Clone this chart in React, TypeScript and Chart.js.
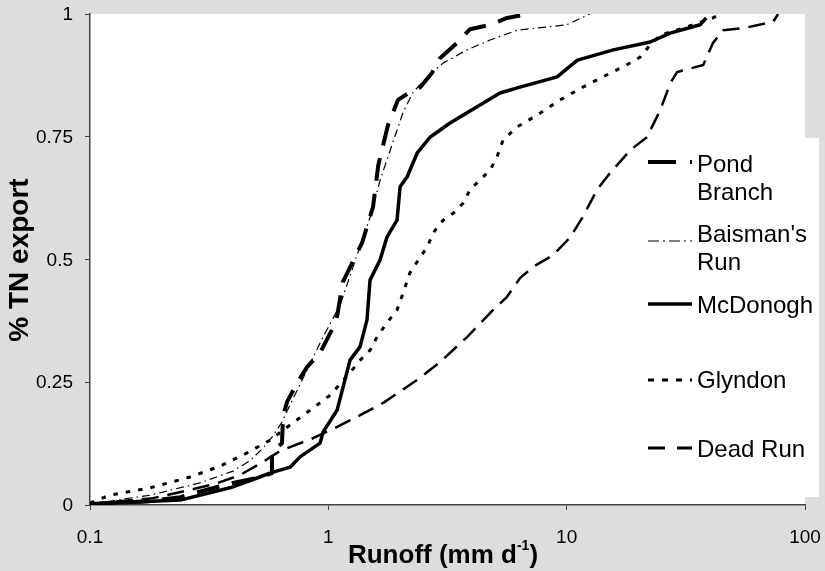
import React, { useEffect, useRef } from "react";
import { Chart, registerables } from "chart.js";
Chart.register(...registerables);

const FONT = 'Arial, "Liberation Sans", Helvetica, sans-serif';

const seriesNames = ["Pond Branch", "Baisman's Run", "McDonogh", "Glyndon", "Dead Run"];

const pondX = [0.1, 0.179, 0.239, 0.31, 0.398, 0.502, 0.58, 0.58, 0.639, 0.646, 0.671, 0.739, 0.814, 0.923, 1.08, 1.15, 1.385, 1.54, 1.62, 1.78, 1.96, 2.27, 2.43, 2.72, 2.94, 3.47, 3.93, 4.77, 5.62, 6.89];
const pondY = [0.002, 0.008, 0.016, 0.031, 0.045, 0.055, 0.065, 0.108, 0.126, 0.181, 0.21, 0.248, 0.281, 0.31, 0.374, 0.454, 0.534, 0.607, 0.692, 0.774, 0.825, 0.845, 0.851, 0.88, 0.91, 0.941, 0.969, 0.978, 0.992, 1.0];

const baismanX = [0.1, 0.179, 0.289, 0.398, 0.469, 0.532, 0.58, 0.639, 0.691, 0.814, 0.95, 1.12, 1.27, 1.4, 1.5, 1.65, 1.82, 2.06, 2.27, 2.6, 3.03, 3.82, 4.77, 6.19, 10, 12.5];
const baismanY = [0.002, 0.02, 0.045, 0.069, 0.09, 0.116, 0.138, 0.169, 0.204, 0.275, 0.342, 0.407, 0.485, 0.546, 0.587, 0.662, 0.723, 0.8, 0.841, 0.872, 0.9, 0.927, 0.947, 0.967, 0.978, 1.0];

const mcdonoghX = [0.1, 0.239, 0.387, 0.502, 0.569, 0.691, 0.761, 0.923, 0.951, 1.088, 1.153, 1.233, 1.358, 1.453, 1.496, 1.648, 1.763, 1.942, 2.0, 2.14, 2.36, 2.67, 3.24, 4.21, 5.25, 6.37, 9.12, 11.1, 15.7, 22.4, 27.2, 36.3, 38.5];
const mcdonoghY = [0.002, 0.01, 0.035, 0.055, 0.065, 0.077, 0.098, 0.126, 0.149, 0.193, 0.24, 0.295, 0.322, 0.377, 0.458, 0.499, 0.546, 0.58, 0.648, 0.668, 0.717, 0.749, 0.778, 0.811, 0.839, 0.851, 0.872, 0.906, 0.927, 0.943, 0.961, 0.978, 0.992];

const glyndonX = [0.1, 0.121, 0.179, 0.263, 0.351, 0.456, 0.569, 0.691, 0.838, 1.02, 1.23, 1.36, 1.5, 1.6, 1.76, 1.94, 2.06, 2.2, 2.43, 2.6, 2.75, 3.03, 3.34, 3.68, 3.93, 4.33, 4.77, 5.1, 5.41, 6.19, 7.51, 9.38, 11.7, 14.2, 17.2, 20.3, 22.4, 24.7, 30.8, 41.1, 44.0];
const glyndonY = [0.004, 0.02, 0.035, 0.057, 0.079, 0.106, 0.132, 0.163, 0.193, 0.224, 0.269, 0.295, 0.316, 0.342, 0.371, 0.397, 0.432, 0.473, 0.505, 0.525, 0.554, 0.58, 0.594, 0.615, 0.642, 0.662, 0.682, 0.709, 0.743, 0.77, 0.794, 0.825, 0.851, 0.872, 0.892, 0.912, 0.937, 0.957, 0.971, 0.992, 1.0];

const deadRunX = [0.1, 0.184, 0.263, 0.335, 0.426, 0.517, 0.627, 0.863, 1.088, 1.36, 1.7, 2.36, 2.94, 3.82, 4.77, 5.62, 6.37, 7.23, 8.77, 10.3, 11.7, 13.4, 15.2, 18.5, 21.7, 24.7, 27.2, 29.1, 37.4, 41.1, 45.3, 55.0, 73.5, 77.1];
const deadRunY = [0.002, 0.014, 0.031, 0.043, 0.061, 0.084, 0.11, 0.136, 0.159, 0.183, 0.208, 0.255, 0.291, 0.342, 0.391, 0.424, 0.462, 0.485, 0.509, 0.544, 0.587, 0.642, 0.676, 0.723, 0.749, 0.804, 0.859, 0.882, 0.896, 0.941, 0.967, 0.971, 0.984, 1.0];

const xTickValues = [0.1, 1, 10, 100];
const xTickLabels = ["0.1", "1", "10", "100"];
const yTickValues = [0, 0.25, 0.5, 0.75, 1];
const yTickLabels = ["0", "0.25", "0.5", "0.75", "1"];

const xTitleMain = "Runoff (mm d";
const xTitleSup = "-1";
const xTitleEnd = ")";
const yTitle = "% TN export";

const toPoints = (xs: number[], ys: number[]) => xs.map((x, i) => ({ x, y: ys[i] }));

const styles = [
  { width: 4, dash: [23, 13], legendDash: [28, 14], legendWidth: 4 },
  { width: 1.2, dash: [8, 4, 1.5, 4], legendDash: [11, 4, 2, 4], legendWidth: 1.2 },
  { width: 3.5, dash: [] as number[], legendDash: [] as number[], legendWidth: 3.5 },
  { width: 3, dash: [4.5, 8], legendDash: [6, 8], legendWidth: 3 },
  { width: 2.5, dash: [17, 9], legendDash: [17, 12], legendWidth: 3 },
];

const legendEntries = [
  { lines: ["Pond", "Branch"], baselines: [172, 200], lineY: 162 },
  { lines: ["Baisman's", "Run"], baselines: [242, 270], lineY: 241 },
  { lines: ["McDonogh"], baselines: [313], lineY: 304 },
  { lines: ["Glyndon"], baselines: [388], lineY: 380 },
  { lines: ["Dead Run"], baselines: [457], lineY: 448 },
];

export default function App() {
  const ref = useRef<HTMLCanvasElement | null>(null);
  useEffect(() => {
    if (!ref.current) return;
    const allX = [pondX, baismanX, mcdonoghX, glyndonX, deadRunX];
    const allY = [pondY, baismanY, mcdonoghY, glyndonY, deadRunY];
    const decor = {
      id: "decor",
      beforeDraw(chart: any) {
        const { ctx, chartArea } = chart;
        ctx.save();
        ctx.fillStyle = "#ffffff";
        ctx.fillRect(chartArea.left, chartArea.top, chartArea.right - chartArea.left, chartArea.bottom - chartArea.top);
        ctx.fillRect(652, 138, 167, 359);
        ctx.restore();
      },
      afterDraw(chart: any) {
        const { ctx } = chart;
        const xs = chart.scales.x;
        const ys = chart.scales.y;
        ctx.save();
        // tick labels
        ctx.fillStyle = "#000";
        ctx.font = `19px ${FONT}`;
        ctx.textAlign = "center";
        ctx.textBaseline = "alphabetic";
        xTickValues.forEach((v, i) => ctx.fillText(xTickLabels[i], xs.getPixelForValue(v), 543));
        ctx.textAlign = "right";
        ctx.textBaseline = "middle";
        yTickValues.forEach((v, i) => ctx.fillText(yTickLabels[i], 73, ys.getPixelForValue(v) + 1));
        // legend
        legendEntries.forEach((e, i) => {
          const st = styles[i];
          ctx.strokeStyle = "#000";
          ctx.lineWidth = st.legendWidth;
          ctx.setLineDash(st.legendDash);
          ctx.lineCap = "butt";
          ctx.beginPath();
          ctx.moveTo(648, e.lineY);
          ctx.lineTo(692, e.lineY);
          ctx.stroke();
          ctx.setLineDash([]);
          ctx.fillStyle = "#000";
          ctx.font = `24px ${FONT}`;
          ctx.textAlign = "left";
          ctx.textBaseline = "alphabetic";
          e.lines.forEach((t, j) => ctx.fillText(t, 697, e.baselines[j]));
        });
        // x title
        ctx.fillStyle = "#000";
        ctx.textBaseline = "alphabetic";
        ctx.textAlign = "left";
        ctx.font = `bold 26px ${FONT}`;
        const w1 = ctx.measureText(xTitleMain).width;
        const w3 = ctx.measureText(xTitleEnd).width;
        ctx.font = `bold 14px ${FONT}`;
        const w2 = ctx.measureText(xTitleSup).width;
        const total = w1 + w2 + w3;
        const x0 = 443 - total / 2;
        ctx.font = `bold 26px ${FONT}`;
        ctx.fillText(xTitleMain, x0, 563);
        ctx.font = `bold 14px ${FONT}`;
        ctx.fillText(xTitleSup, x0 + w1, 550);
        ctx.font = `bold 26px ${FONT}`;
        ctx.fillText(xTitleEnd, x0 + w1 + w2, 563);
        // y title
        ctx.translate(28, 260);
        ctx.rotate(-Math.PI / 2);
        ctx.textAlign = "center";
        ctx.font = `bold 28px ${FONT}`;
        ctx.fillText(yTitle, 0, 0);
        ctx.restore();
      },
    };
    const chart = new Chart(ref.current, {
      type: "line",
      data: {
        datasets: seriesNames.map((name, i) => ({
          label: name,
          data: toPoints(allX[i], allY[i]),
          borderColor: "#000",
          backgroundColor: "#000",
          borderWidth: styles[i].width,
          borderDash: styles[i].dash,
          pointRadius: 0,
          tension: 0,
          fill: false,
          borderJoinStyle: "round" as const,
        })),
      },
      options: {
        responsive: false,
        maintainAspectRatio: false,
        animation: false,
        layout: { padding: { left: 0, right: 20, top: 14, bottom: 0 } },
        plugins: { legend: { display: false }, tooltip: { enabled: false }, title: { display: false } },
        scales: {
          x: {
            type: "logarithmic",
            min: 0.1,
            max: 100,
            position: "bottom",
            grid: { display: true, drawOnChartArea: false, drawTicks: true, tickLength: 5, color: "#404040", lineWidth: 1 },
            border: { display: true, color: "#404040", width: 1.5 },
            ticks: { display: false, autoSkip: false, maxRotation: 0, padding: 0 },
            afterBuildTicks: (s: any) => {
              s.ticks = xTickValues.map((v) => ({ value: v }));
            },
            afterFit: (s: any) => {
              s.height = 66;
            },
          },
          y: {
            type: "linear",
            min: 0,
            max: 1,
            grid: { display: true, drawOnChartArea: false, drawTicks: true, tickLength: 5, color: "#404040", lineWidth: 1 },
            border: { display: true, color: "#404040", width: 1.5 },
            ticks: { display: false, padding: 0 },
            afterBuildTicks: (s: any) => {
              s.ticks = yTickValues.map((v) => ({ value: v }));
            },
            afterFit: (s: any) => {
              s.width = 90;
            },
          },
        },
      },
      plugins: [decor],
    } as any);
    return () => chart.destroy();
  }, []);
  return (
    <div style={{ position: "fixed", left: 0, top: 0, width: 825, height: 571, background: "#dddddd" }}>
      <canvas ref={ref} width={825} height={571} style={{ width: 825, height: 571, display: "block" }} />
    </div>
  );
}
